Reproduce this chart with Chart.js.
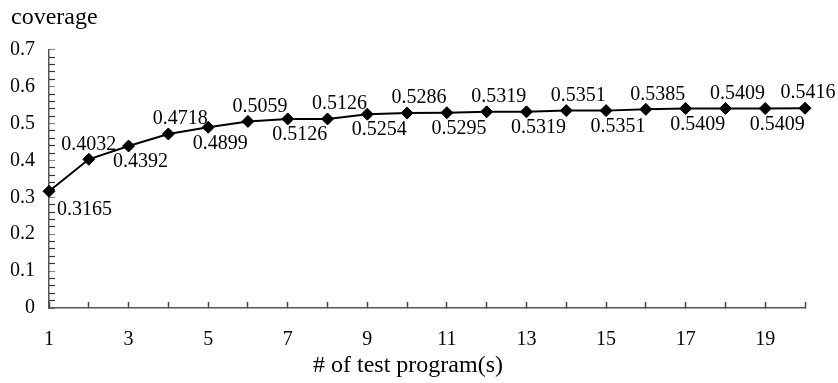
<!DOCTYPE html>
<html>
<head>
<meta charset="utf-8">
<script src="https://cdn.jsdelivr.net/npm/chart.js@4/dist/chart.umd.min.js"></script>
<style>
  html, body { margin: 0; padding: 0; background: #fff; }
  #wrap { width: 838px; height: 383px; }
</style>
</head>
<body>
<div id="wrap"><canvas id="c" width="838" height="383"></canvas></div>
<script>
const categories = ['1','2','3','4','5','6','7','8','9','10','11','12','13','14','15','16','17','18','19','20'];
const coverage = [0.3165, 0.4032, 0.4392, 0.4718, 0.4899, 0.5059, 0.5126, 0.5126, 0.5254, 0.5286,
                  0.5295, 0.5319, 0.5319, 0.5351, 0.5351, 0.5385, 0.5409, 0.5409, 0.5409, 0.5416];
const yTickLabels = ['0', '0.1', '0.2', '0.3', '0.4', '0.5', '0.6', '0.7'];
const xTitle = '# of test program(s)';
const yTitle = 'coverage';

const SERIF = "'Liberation Serif', 'DejaVu Serif', serif";

const valueLabels = {
  id: 'valueLabels',
  afterDatasetsDraw(chart) {
    const ctx = chart.ctx;
    const meta = chart.getDatasetMeta(0);
    const n = meta.data.length;
    ctx.save();
    ctx.font = '20px ' + SERIF;
    ctx.fillStyle = '#000';
    ctx.textBaseline = 'middle';
    meta.data.forEach((pt, i) => {
      const txt = coverage[i].toFixed(4);
      let x = pt.x, y = pt.y;
      if (i === 0) {
        ctx.textAlign = 'left';
        x += 8; y += 18;
      } else {
        ctx.textAlign = 'center';
        let dx = 12;
        if (i === 1) dx = 0;
        if (i === n - 1) dx = 3;
        x += dx;
        y += (i % 2 === 1) ? -15 : 16;
      }
      ctx.fillText(txt, x, y);
    });
    // x axis title, slightly left of the axis centre as in the original
    const area = chart.chartArea;
    ctx.font = '24px ' + SERIF;
    ctx.textAlign = 'center';
    ctx.fillText(xTitle, (area.left + area.right) / 2 - 19, chart.height - 17);
    ctx.restore();
  }
};

new Chart(document.getElementById('c'), {
  type: 'line',
  data: {
    labels: categories,
    datasets: [{
      data: coverage,
      borderColor: '#000',
      backgroundColor: '#000',
      borderWidth: 2,
      pointStyle: 'rectRot',
      pointRadius: 6,
      pointHoverRadius: 6,
      pointBackgroundColor: '#000',
      pointBorderColor: '#000',
      pointBorderWidth: 1,
      tension: 0,
      fill: false
    }]
  },
  options: {
    responsive: false,
    animation: false,
    devicePixelRatio: 1,
    layout: { padding: { left: 11, right: 33, top: 0, bottom: 0 } },
    plugins: {
      legend: { display: false },
      tooltip: { enabled: false },
      title: {
        display: true,
        text: yTitle,
        align: 'start',
        color: '#000',
        font: { family: SERIF, size: 24, weight: 'normal', lineHeight: 1.2 },
        padding: { top: 3, bottom: 18 }
      }
    },
    scales: {
      x: {
        type: 'category',
        offset: false,
        afterFit(s) { s.height = 75; },
        border: { display: true, color: '#555', width: 1.5 },
        grid: { display: true, drawOnChartArea: false, drawTicks: true, tickLength: -6, tickColor: '#444', tickWidth: 1.5 },
        ticks: {
          autoSkip: false,
          maxRotation: 0,
          padding: 26,
          color: '#000',
          font: { family: SERIF, size: 20 },
          callback(v, i) { return (i % 2 === 0) ? categories[i] : ''; }
        },
        title: { display: false }
      },
      y: {
        min: 0,
        max: 0.7,
        afterFit(s) { s.width = 38; },
        border: { display: true, color: '#555', width: 1.5 },
        grid: {
          display: true, drawOnChartArea: false, drawTicks: true, tickLength: -6,
          tickColor(ctx) {
            const v = ctx.tick ? ctx.tick.value : 0;
            return Math.abs(v * 10 - Math.round(v * 10)) < 1e-6 ? '#888' : '#333';
          },
          tickWidth: 1.2
        },
        ticks: {
          stepSize: 0.02,
          autoSkip: false,
          padding: 20,
          color: '#000',
          font: { family: SERIF, size: 20 },
          callback(v) {
            const k = Math.round(v * 10);
            if (Math.abs(v * 10 - k) < 1e-6) return yTickLabels[k];
            return '';
          }
        }
      }
    }
  },
  plugins: [valueLabels]
});
</script>
</body>
</html>
